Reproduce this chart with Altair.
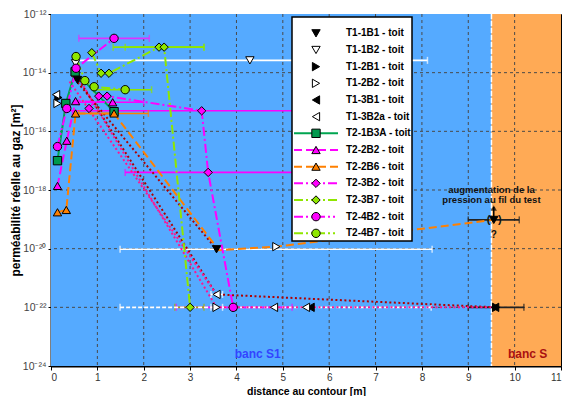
import altair as alt
import pandas as pd

# ---------------- data (x = distance [m], e = log10 of permeability [m2]) ----------------
SERIES = ["T1-1B1 - toit", "T1-1B2 - toit", "T1-2B1 - toit", "T1-2B2 - toit",
          "T1-3B1 - toit", "T1-3B2a - toit", "T2-1B3A - toit", "T2-2B2 - toit",
          "T2-2B6 - toit", "T2-3B2 - toit", "T2-3B7 - toit", "T2-4B2 - toit",
          "T2-4B7 - toit"]
SHAPES = ["triangle-down", "triangle-down", "triangle-right", "triangle-right",
          "triangle-left", "triangle-left", "square", "triangle-up", "triangle-up",
          "diamond", "diamond", "circle", "circle"]
FILLS = ["#000000", "#ffffff", "#000000", "#ffffff", "#000000", "#ffffff",
         "#00994d", "#ff00ff", "#ff8000", "#ff00ff", "#8fe600", "#ff00ff", "#8fe600"]
SIZES = [70, 70, 70, 70, 70, 70, 75, 95, 95, 120, 120, 160, 160]

T2_SERIES = SERIES[6:]
T2_LINE_COLORS = ["#00a550", "#ff00ff", "#ff8000", "#ff00ff", "#8fe600", "#ff00ff", "#8fe600"]
T2_DASHES = [[1, 0], [8, 4], [8, 4], [9, 3, 2, 3], [9, 3, 2, 3], [9, 3, 2, 3, 2, 3], [9, 3, 2, 3, 2, 3]]

# markers
MARKERS = {
    "T1-1B1 - toit": ([0.57, 3.57, 9.55], [-14.25, -20.02, -19.02]),
    "T1-1B2 - toit": ([0.53, 4.29], [-13.68, -13.58]),
    "T1-2B1 - toit": ([0.16, 9.60], [-14.85, -22.0]),
    "T1-2B2 - toit": ([0.14, 4.86, 3.57], [-15.05, -19.93, -22.0]),
    "T1-3B1 - toit": ([5.60, 9.58], [-22.0, -22.0]),
    "T1-3B2a - toit": ([0.11, 3.57, 4.81, 5.50], [-14.75, -21.56, -22.0, -22.0]),
    "T2-1B3A - toit": ([0.14, 0.32, 0.52, 1.36], [-17.0, -15.05, -13.97, -15.33]),
    "T2-2B2 - toit": ([0.14, 0.34, 0.53, 1.33], [-17.86, -16.32, -14.97, -15.01]),
    "T2-2B6 - toit": ([0.14, 0.33, 0.53, 1.36], [-18.76, -18.68, -15.39, -15.39]),
    "T2-3B2 - toit": ([0.82, 1.03, 1.21, 3.25, 3.39, 3.93], [-15.22, -14.8, -14.8, -15.3, -17.4, -22.0]),
    "T2-3B7 - toit": ([0.88, 1.08, 1.25, 2.33, 2.44, 3.0], [-13.32, -14.02, -14.02, -13.13, -13.13, -22.0]),
    "T2-4B2 - toit": ([0.14, 0.34, 0.54, 1.36, 3.93], [-16.52, -15.22, -13.85, -12.83, -22.0]),
    "T2-4B7 - toit": ([0.54, 0.73, 0.93, 1.60], [-13.45, -14.27, -14.48, -14.58]),
}

# connecting lines of the T2 series
LINES = {
    "T2-1B3A - toit": ([0.14, 0.32, 0.52, 1.36], [-17.0, -15.05, -13.97, -15.33]),
    "T2-2B2 - toit": ([0.14, 0.34, 0.53, 1.33], [-17.86, -16.32, -14.97, -15.01]),
    "T2-2B6 - toit": ([0.14, 0.33, 0.53, 1.36, 3.62, 4.86, 9.55], [-18.76, -18.68, -15.39, -15.39, -20.05, -19.93, -19.02]),
    "T2-3B2 - toit": ([0.82, 1.03, 1.21, 3.25, 3.39, 3.93], [-15.22, -14.8, -14.8, -15.3, -17.4, -22.0]),
    "T2-3B7 - toit": ([0.88, 1.08, 1.25, 2.33, 2.44, 3.0], [-13.32, -14.02, -14.02, -13.13, -13.13, -22.0]),
    "T2-4B2 - toit": ([0.14, 0.34, 0.54, 1.36], [-16.52, -15.22, -13.85, -12.83]),
    "T2-4B7 - toit": ([0.54, 0.73, 0.93, 1.60], [-13.45, -14.27, -14.48, -14.58]),
}

# dotted trend lines of the T1 tests
TREND_IDS = ["r1", "r2", "p1", "p2"]
TREND_COLORS = ["#b00000", "#b00000", "#ff1493", "#ff1493"]
TREND_X = [[0.50, 3.57, 9.60], [0.45, 3.57], [0.60, 3.57, 9.60], [0.40, 3.57]]
TREND_E = [[-14.0, -21.56, -22.0], [-14.1, -20.02], [-14.2, -22.0, -22.0], [-14.3, -21.56]]

# horizontal error bars
ERR_LO = [0.56, 1.49, 3.45, 3.45, 9.0, 9.0, 0.60, 0.30, 0.60, 1.60, 2.70, 1.34, 1.60, 0.93, 2.67, 0.60]
ERR_HI = [8.12, 8.22, 3.70, 3.70, 10.1, 10.2, 2.12, 6.50, 2.00, 6.00, 5.20, 3.30, 3.30, 2.17, 3.30, 2.10]
ERR_E = [-13.58, -20.02, -21.56, -22.0, -19.02, -22.0, -12.83, -15.3, -15.01, -17.4, -22.0, -13.13, -13.13, -14.58, -22.0, -15.39]
ERR_COL = ["#ffffff", "#ffffff", "#ffffff", "#ffffff", "#222222", "#222222", "#dd33ff", "#ff00ff",
           "#ff00ff", "#ff00ff", "#ff00ff", "#8fe600", "#8fe600", "#8fe600", "#a8b000", "#ff8000"]
DASHED_ERR_LO = [1.49]
DASHED_ERR_HI = [8.20]
DASHED_ERR_E = [-22.0]

X_TICKS = list(range(0, 12))
Y_TICKS = [-24, -22, -20, -18, -16, -14, -12]

# ---------------- layout constants ----------------
W, H = 510, 352
X0, X1, E0, E1 = 0, 11, -24, -12
px_x = lambda px: (px - 51) / W * (X1 - X0)
px_e = lambda py: E1 - (py - 14) / H * (E1 - E0)

FONT = "Liberation Sans"
xs = alt.Scale(domain=[X0, X1], nice=False, zero=False)
ys = alt.Scale(domain=[E0, E1], nice=False, zero=False)
X_AXIS = alt.Axis(
    values=X_TICKS, title="distance au contour [m]", grid=False, labelColor="#333333",
    labelFont=FONT, labelFontSize=10, titleFont=FONT, titleFontSize=10.5,
    titleFontWeight="bold", titleColor="#000000", domainColor="#000000", domainWidth=2,
    tickColor="#000000", tickSize=4, labelPadding=2, titlePadding=4)
Y_AXIS = alt.Axis(
    values=Y_TICKS, title="perméabilité réelle au gaz [m²]", grid=False,
    labelExpr="'10' + replace(replace(replace(replace(replace(replace(replace(toString(datum.value), regexp('-','g'), '⁻'), regexp('1','g'), '¹'), regexp('2','g'), '²'), regexp('4','g'), '⁴'), regexp('6','g'), '⁶'), regexp('8','g'), '⁸'), regexp('0','g'), '⁰')",
    labelColor="#444444", labelFont=FONT, labelFontSize=10.5, titleFont=FONT,
    titleFontSize=12, titleFontWeight="bold", titleColor="#000000", domainColor="#000000",
    domainWidth=2, tickColor="#000000", tickSize=3, labelPadding=2, titleX=-36,
    titleY=H / 2, titleBaseline="middle")


def X(f="x"):
    return alt.X(f"{f}:Q", scale=xs, axis=X_AXIS)


def Y(f="e"):
    return alt.Y(f"{f}:Q", scale=ys, axis=Y_AXIS)


shape_sc = alt.Scale(domain=SERIES, range=SHAPES)
fill_sc = alt.Scale(domain=SERIES, range=FILLS)
size_sc = alt.Scale(domain=SERIES, range=SIZES)
col_sc = alt.Scale(domain=T2_SERIES, range=T2_LINE_COLORS)
dash_sc = alt.Scale(domain=T2_SERIES, range=T2_DASHES)

# ---------------- tables ----------------
bg = pd.DataFrame({"x": [0, 9.5], "x2": [9.5, 11], "e": [E0, E0], "e2": [E1, E1],
                   "c": ["#55aaff", "#ffaa55"]})
vgrid = pd.DataFrame({"x": X_TICKS[1:-1]})
hgrid = pd.DataFrame({"e": Y_TICKS[1:-1]})

pts = pd.DataFrame([{"s": s, "x": x, "e": e} for s in SERIES for x, e in zip(*MARKERS[s])])
lines = pd.DataFrame([{"s": s, "x": x, "e": e, "o": i} for s in T2_SERIES
                      for i, (x, e) in enumerate(zip(*LINES[s]))])
trends = pd.DataFrame([{"id": t, "c": c, "x": x, "e": e, "o": i}
                       for t, c, xx, ee in zip(TREND_IDS, TREND_COLORS, TREND_X, TREND_E)
                       for i, (x, e) in enumerate(zip(xx, ee))])
err = pd.DataFrame({"lo": ERR_LO, "hi": ERR_HI, "e": ERR_E, "c": ERR_COL})
caps = pd.DataFrame({"x": ERR_LO + ERR_HI, "e": ERR_E * 2, "c": ERR_COL * 2})
derr = pd.DataFrame({"lo": DASHED_ERR_LO, "hi": DASHED_ERR_HI, "e": DASHED_ERR_E})
dcaps = pd.DataFrame({"x": DASHED_ERR_LO + DASHED_ERR_HI, "e": DASHED_ERR_E * 2})

# ---------------- layers ----------------
bg_l = alt.Chart(bg).mark_rect().encode(x=X(), x2="x2:Q", y=Y(), y2="e2:Q",
                                        fill=alt.Fill("c:N", scale=None))
vg = alt.Chart(vgrid).mark_rule(color="#4a4a4a", strokeDash=[3, 3], strokeWidth=1).encode(x=X())
hg = alt.Chart(hgrid).mark_rule(color="#4a4a4a", strokeDash=[3, 3], strokeWidth=1).encode(y=Y())
sep = alt.Chart(pd.DataFrame({"x": [9.5]})).mark_rule(
    color="#ffffff", strokeDash=[5, 2], strokeWidth=1.5).encode(x=X())

err_l = alt.Chart(err).mark_rule(strokeWidth=1.6).encode(
    x=X("lo"), x2="hi:Q", y=Y(), color=alt.Color("c:N", scale=None))
cap_l = alt.Chart(caps).mark_tick(orient="vertical", size=7, thickness=1.5).encode(
    x=X(), y=Y(), color=alt.Color("c:N", scale=None))
derr_l = alt.Chart(derr).mark_rule(strokeWidth=1.6, color="#ffffff", strokeDash=[4, 2]).encode(
    x=X("lo"), x2="hi:Q", y=Y())
dcap_l = alt.Chart(dcaps).mark_tick(orient="vertical", size=7, thickness=1.5, color="#ffffff").encode(
    x=X(), y=Y())

trend_l = alt.Chart(trends).mark_line(strokeWidth=2, strokeDash=[2, 2.5]).encode(
    x=X(), y=Y(), detail="id:N", order="o:Q", color=alt.Color("c:N", scale=None))

line_l = alt.Chart(lines).mark_line(strokeWidth=2).encode(
    x=X(), y=Y(), order="o:Q",
    color=alt.Color("s:N", scale=col_sc, legend=None),
    strokeDash=alt.StrokeDash("s:N", scale=dash_sc, legend=None))

pt_l = alt.Chart(pts).mark_point(filled=True, stroke="#000000", strokeWidth=1, opacity=1).encode(
    x=X(), y=Y(),
    shape=alt.Shape("s:N", scale=shape_sc, legend=None),
    fill=alt.Fill("s:N", scale=fill_sc, legend=None),
    size=alt.Size("s:N", scale=size_sc, legend=None))

# annotations
txt = pd.DataFrame({
    "x": [4.46, 10.28, 9.5, 9.5, 9.44, 9.68, 9.55],
    "e": [px_e(354), px_e(354), px_e(190), px_e(199.5), px_e(220), px_e(220), px_e(235)],
    "t": ["banc S1", "banc S", "augmentation de la", "pression au fil du test", "(", ")", "?"],
    "c": ["#3344ff", "#aa1111", "#111111", "#111111", "#111111", "#111111", "#111111"],
    "fs": [12, 12, 9.5, 9.5, 11, 11, 10],
})
txt_l = alt.Chart(txt).mark_text(font=FONT, fontWeight="bold", baseline="middle").encode(
    x=X(), y=Y(), text="t:N", color=alt.Color("c:N", scale=None), size=alt.Size("fs:Q", scale=None))
arrow = alt.Chart(pd.DataFrame({"x": [9.55], "e": [px_e(207)], "e2": [px_e(222)]})).mark_rule(
    color="#000000", strokeWidth=1.5).encode(x=X(), y=Y(), y2="e2:Q")
arrow_head = alt.Chart(pd.DataFrame({"x": [9.55], "e": [px_e(208)]})).mark_point(
    shape="triangle-up", filled=True, color="#000000", size=40).encode(x=X(), y=Y())

# legend
leg_rows = pd.DataFrame({"s": SERIES, "x": [px_x(316)] * 13,
                         "e": [px_e(33.3 + 16.67 * i) for i in range(13)],
                         "xt": [px_x(346)] * 13})
leg_lines = leg_rows[leg_rows.s.isin(T2_SERIES)].assign(x=px_x(294), x2=px_x(338))
box = alt.Chart(pd.DataFrame({"x": [px_x(292)], "x2": [px_x(412)], "e": [px_e(17)], "e2": [px_e(241)]})).mark_rect(
    fill="#ffffff", stroke="#000000", strokeWidth=1.5).encode(x=X(), x2="x2:Q", y=Y(), y2="e2:Q")
leg_line_l = alt.Chart(leg_lines).mark_rule(strokeWidth=2).encode(
    x=X(), x2="x2:Q", y=Y(),
    color=alt.Color("s:N", scale=col_sc, legend=None),
    strokeDash=alt.StrokeDash("s:N", scale=dash_sc, legend=None))
leg_pt_l = alt.Chart(leg_rows).mark_point(filled=True, stroke="#000000", strokeWidth=1, opacity=1).encode(
    x=X(), y=Y(),
    shape=alt.Shape("s:N", scale=shape_sc, legend=None),
    fill=alt.Fill("s:N", scale=fill_sc, legend=None),
    size=alt.Size("s:N", scale=size_sc, legend=None))
leg_txt_l = alt.Chart(leg_rows).mark_text(font=FONT, fontWeight="bold", fontSize=10, align="left",
                                          baseline="middle", color="#000000").encode(
    x=X("xt"), y=Y(), text="s:N")

chart = alt.layer(
    bg_l, vg, hg, sep, err_l, cap_l, derr_l, dcap_l, trend_l, line_l, pt_l,
    txt_l, arrow, arrow_head, box, leg_line_l, leg_pt_l, leg_txt_l
).properties(
    width=W, height=H,
    padding={"left": 51, "top": 14, "right": 11, "bottom": 30},
    autosize=alt.AutoSizeParams(type="none"),
    background="#ffffff",
).configure_view(stroke="#000000", strokeWidth=1)

chart.save("out.html", embed_options={"renderer": "svg", "actions": False})
